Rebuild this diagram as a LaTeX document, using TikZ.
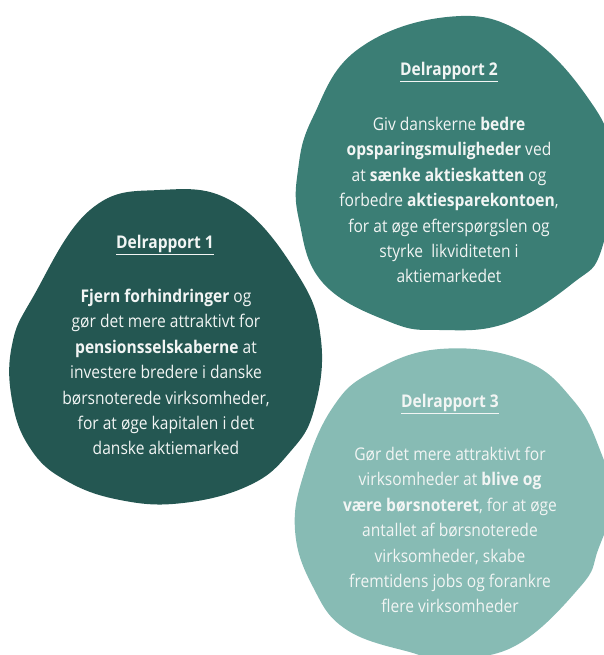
\documentclass[tikz,border=0pt]{standalone}
\usepackage{fontspec}
\setmainfont{Open Sans}[FakeStretch=0.89]
\definecolor{blobA}{HTML}{245752}
\definecolor{blobB}{HTML}{3B7E75}
\definecolor{blobC}{HTML}{87BBB4}
\definecolor{txt}{HTML}{F2F5F4}
\begin{document}
\begin{tikzpicture}[x=1pt,y=-1pt,
  title/.style={text=txt,font=\fontsize{17.5}{20}\selectfont\bfseries,inner sep=0pt},
  body/.style={text=txt,font=\fontsize{17.5}{25.4}\selectfont,align=center,inner sep=0pt,anchor=north}]
\useasboundingbox (0,0) rectangle (604,655);
\clip (0,0) rectangle (604,655);
% blob 2 (top right)
\fill[blobB] plot[smooth cycle,tension=0.7] coordinates {(447,17) (523,33) (588,98) (612,160) (602,248) (573,283) (507,323) (440,330) (390,322) (323,283) (299,220) (298,170) (313,117) (357,50)};
% blob 1 (left)
\fill[blobA] plot[smooth cycle,tension=0.7] coordinates {(160,190) (235,203) (298,275) (321,340) (314,410) (290,452) (250,485) (183,503) (120,500) (65,480) (30,448) (12,400) (12,345) (33,297) (90,210)};
% blob 3 (bottom right)
\fill[blobC] plot[smooth cycle,tension=0.7] coordinates {(440,349) (523,360) (573,400) (600,450) (612,500) (598,550) (580,587) (513,647) (440,658) (413,653) (347,630) (313,587) (295,530) (305,470) (333,407) (372,372)};
% texts
\node[title] (t2) at (449,72) {\underline{Delrapport 2}};
\node[body] (b2) at (449,117) {Giv danskerne \textbf{bedre}\\\textbf{opsparingsmuligheder} ved\\at \textbf{sænke aktieskatten} og\\forbedre \textbf{aktiesparekontoen},\\for at øge efterspørgslen og\\styrke\ \ likviditeten i\\aktiemarkedet};
\node[title] (t1) at (165,245) {\underline{Delrapport 1}};
\node[body] (b1) at (166,289) {\textbf{Fjern forhindringer} og\\gør det mere attraktivt for\\\textbf{pensionsselskaberne} at\\investere bredere i danske\\børsnoterede virksomheder,\\for at øge kapitalen i det\\danske aktiemarked};
\node[title] (t3) at (450,404) {\underline{Delrapport 3}};
\node[body] (b3) at (450,447) {Gør det mere attraktivt for\\virksomheder at \textbf{blive og}\\\textbf{være børsnoteret}, for at øge\\antallet af børsnoterede\\virksomheder, skabe\\fremtidens jobs og forankre\\flere virksomheder};
\end{tikzpicture}
\end{document}
